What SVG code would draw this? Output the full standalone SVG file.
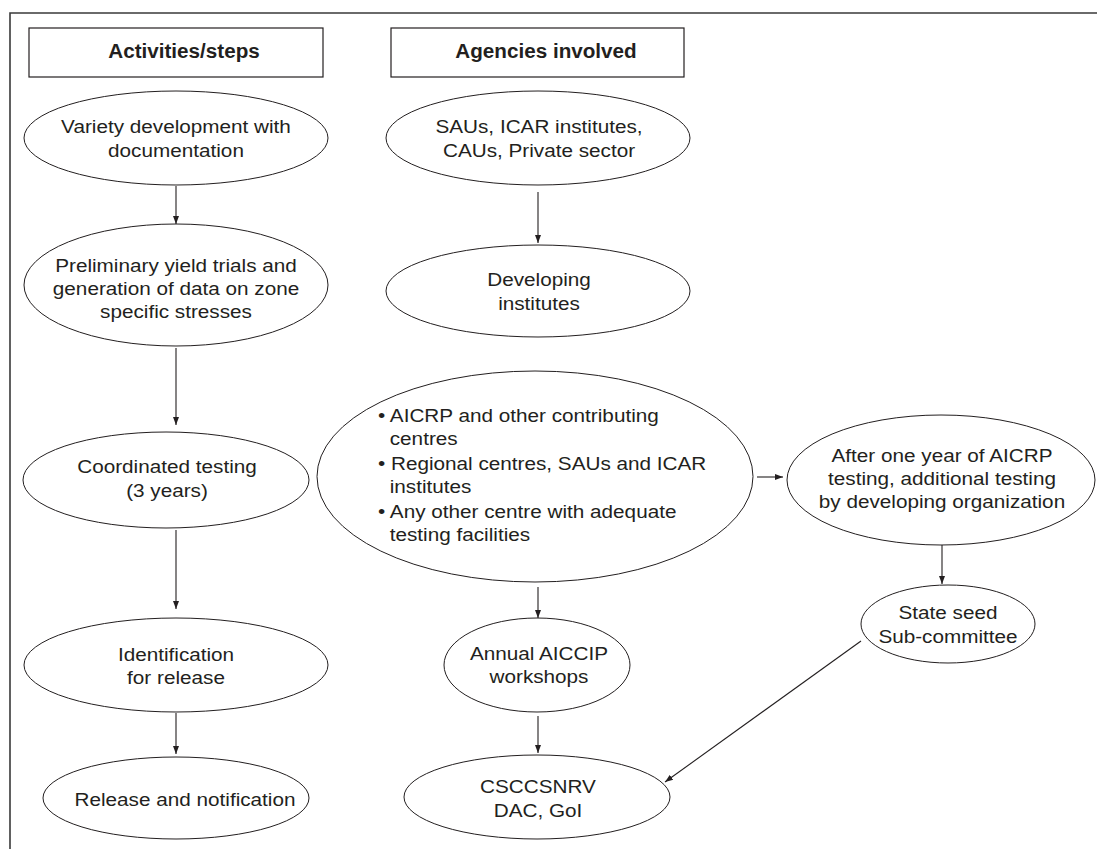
<svg xmlns="http://www.w3.org/2000/svg" width="1097" height="849" viewBox="0 0 1097 849">
<style>
  .frame{fill:none;stroke:#3a3a3a;stroke-width:1.6}
  .hdr{fill:#fff;stroke:#231f20;stroke-width:1.2}
  .node{fill:#fff;stroke:#231f20;stroke-width:1}
  .conn line{stroke:#231f20;stroke-width:1.1;fill:none}
  text{font-family:"Liberation Sans",Arial,Helvetica,sans-serif;font-size:18.5px;fill:#231f20}
  .c{text-anchor:middle}
  .b{font-weight:bold;font-size:19.5px}
</style>
<defs>
  <marker id="ah" viewBox="0 0 8 8" refX="8" refY="4" markerWidth="8" markerHeight="8" markerUnits="userSpaceOnUse" orient="auto">
    <path d="M0,1 L8,4 L0,7 Z" fill="#231f20"/>
  </marker>
</defs>
<rect width="1097" height="849" fill="#fff"/>
<path class="frame" d="M10,849 V13 H1097"/>

<g id="hdr-activities">
  <rect class="hdr" x="29" y="28" width="294" height="49"/>
  <g transform="translate(184 0) scale(1.06 1)"><text class="c b" x="0" y="58">Activities/steps</text></g>
</g>
<g id="hdr-agencies">
  <rect class="hdr" x="391" y="28" width="293" height="49"/>
  <g transform="translate(546 0) scale(1.06 1)"><text class="c b" x="0" y="58">Agencies involved</text></g>
</g>

<g id="n-variety">
  <ellipse class="node" cx="176" cy="138" rx="152" ry="47"/>
  <g transform="translate(176 0) scale(1.12 1)">
    <text class="c" x="0" y="133">Variety development with</text>
    <text class="c" x="0" y="157">documentation</text>
  </g>
</g>
<g id="n-prelim">
  <ellipse class="node" cx="176" cy="285" rx="152" ry="61"/>
  <g transform="translate(176 0) scale(1.12 1)">
    <text class="c" x="0" y="272">Preliminary yield trials and</text>
    <text class="c" x="0" y="295">generation of data on zone</text>
    <text class="c" x="0" y="318">specific stresses</text>
  </g>
</g>
<g id="n-coord">
  <ellipse class="node" cx="166" cy="480" rx="143" ry="48"/>
  <g transform="translate(167 0) scale(1.12 1)">
    <text class="c" x="0" y="473">Coordinated testing</text>
    <text class="c" x="0" y="497">(3 years)</text>
  </g>
</g>
<g id="n-ident">
  <ellipse class="node" cx="176" cy="665" rx="152" ry="47"/>
  <g transform="translate(176 0) scale(1.12 1)">
    <text class="c" x="0" y="661">Identification</text>
    <text class="c" x="0" y="684">for release</text>
  </g>
</g>
<g id="n-release">
  <ellipse class="node" cx="176" cy="798" rx="133" ry="41"/>
  <g transform="translate(185 0) scale(1.12 1)">
    <text class="c" x="0" y="806">Release and notification</text>
  </g>
</g>

<g id="n-saus">
  <ellipse class="node" cx="538" cy="138" rx="152" ry="47"/>
  <g transform="translate(539 0) scale(1.12 1)">
    <text class="c" x="0" y="133">SAUs, ICAR institutes,</text>
    <text class="c" x="0" y="157">CAUs, Private sector</text>
  </g>
</g>
<g id="n-developing">
  <ellipse class="node" cx="538" cy="291" rx="152" ry="46"/>
  <g transform="translate(539 0) scale(1.12 1)">
    <text class="c" x="0" y="286">Developing</text>
    <text class="c" x="0" y="310">institutes</text>
  </g>
</g>
<g id="n-aicrp">
  <ellipse class="node" cx="535" cy="476.5" rx="218" ry="105.5"/>
  <g transform="translate(378 0) scale(1.12 1)">
    <text x="0" y="422">• AICRP and other contributing</text>
    <text x="10.5" y="445">centres</text>
    <text x="0" y="470">• Regional centres, SAUs and ICAR</text>
    <text x="10.5" y="493">institutes</text>
    <text x="0" y="518">• Any other centre with adequate</text>
    <text x="10.5" y="541">testing facilities</text>
  </g>
</g>
<g id="n-afteryear">
  <ellipse class="node" cx="941" cy="480" rx="154" ry="65"/>
  <g transform="translate(942 0) scale(1.12 1)">
    <text class="c" x="0" y="462">After one year of AICRP</text>
    <text class="c" x="0" y="485">testing, additional testing</text>
    <text class="c" x="0" y="508">by developing organization</text>
  </g>
</g>
<g id="n-stateseed">
  <ellipse class="node" cx="948" cy="624" rx="87" ry="39"/>
  <g transform="translate(948 0) scale(1.12 1)">
    <text class="c" x="0" y="619">State seed</text>
    <text class="c" x="0" y="643">Sub-committee</text>
  </g>
</g>
<g id="n-annual">
  <ellipse class="node" cx="537" cy="665" rx="93" ry="47"/>
  <g transform="translate(539 0) scale(1.12 1)">
    <text class="c" x="0" y="660">Annual AICCIP</text>
    <text class="c" x="0" y="683">workshops</text>
  </g>
</g>
<g id="n-csccsnrv">
  <ellipse class="node" cx="537" cy="797" rx="133" ry="42"/>
  <g transform="translate(538 0) scale(1.12 1)">
    <text class="c" x="0" y="793">CSCCSNRV</text>
    <text class="c" x="0" y="817">DAC, GoI</text>
  </g>
</g>

<g id="connectors" class="conn">
  <line x1="176" y1="186" x2="176" y2="224" marker-end="url(#ah)"/>
  <line x1="176" y1="348" x2="176" y2="425" marker-end="url(#ah)"/>
  <line x1="176" y1="530" x2="176" y2="609" marker-end="url(#ah)"/>
  <line x1="176" y1="713" x2="176" y2="754" marker-end="url(#ah)"/>
  <line x1="538" y1="192" x2="538" y2="243" marker-end="url(#ah)"/>
  <line x1="538" y1="587" x2="538" y2="618" marker-end="url(#ah)"/>
  <line x1="538" y1="716" x2="538" y2="753" marker-end="url(#ah)"/>
  <line x1="757" y1="477" x2="783" y2="477" marker-end="url(#ah)"/>
  <line x1="942" y1="545" x2="942" y2="584" marker-end="url(#ah)"/>
  <line x1="861" y1="641" x2="665" y2="782" marker-end="url(#ah)"/>
</g>
</svg>
